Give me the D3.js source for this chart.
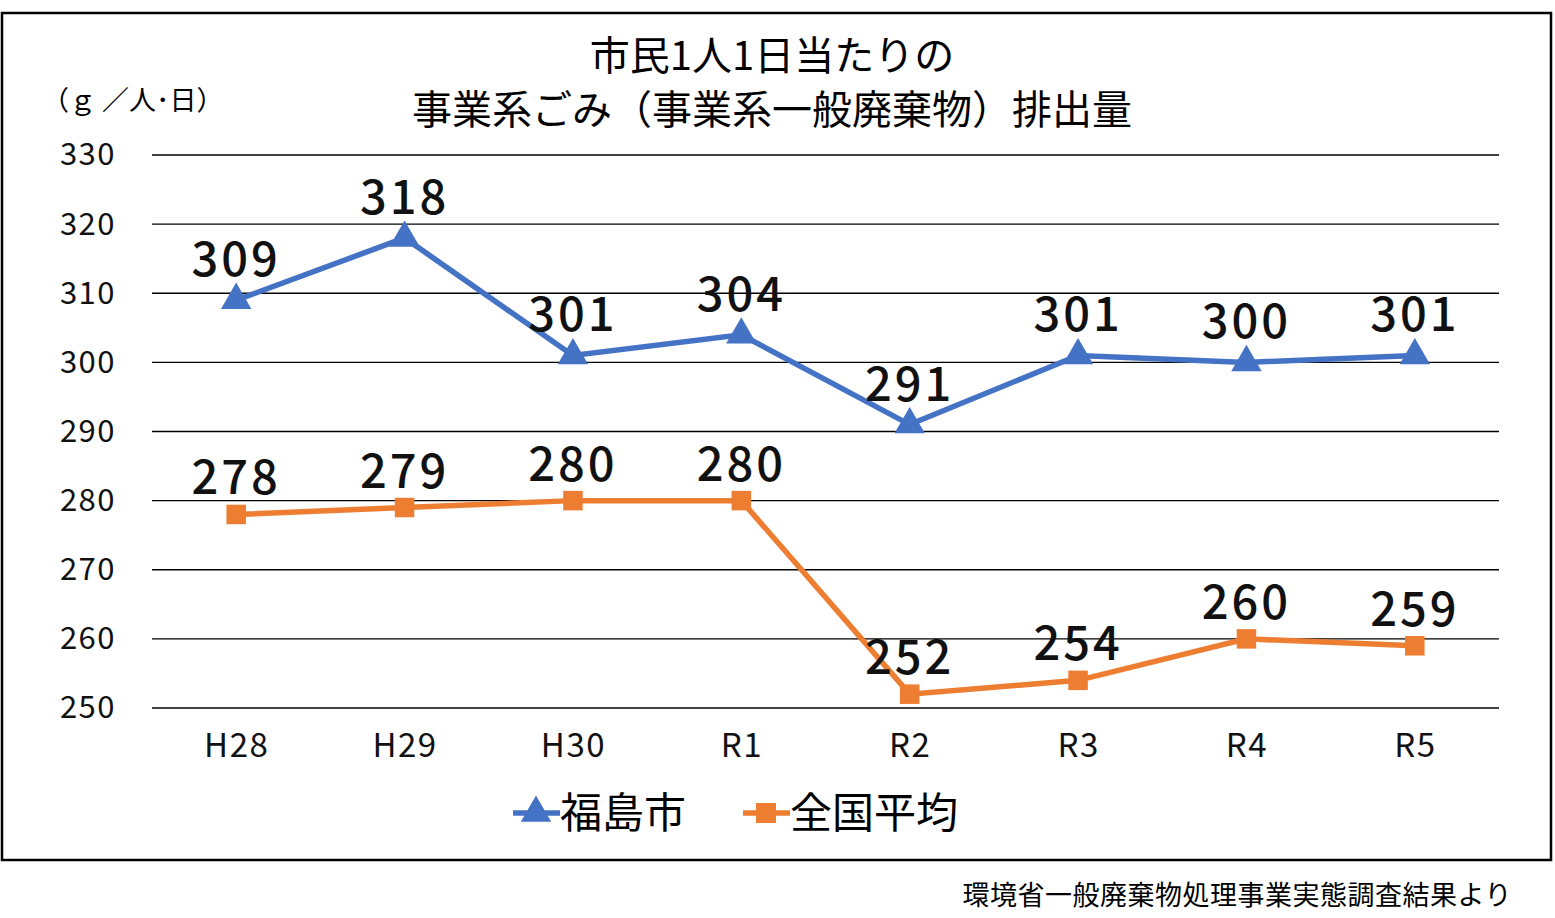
<!DOCTYPE html>
<html><head><meta charset="utf-8">
<script src="https://cdn.jsdelivr.net/npm/d3@7"></script>
<style>body{margin:0;background:#fff}text{font-family:"Noto Sans CJK JP","Noto Sans",sans-serif}</style>
</head><body><svg id="chart" width="1555" height="918"></svg>
<script>
const categories = ["H28","H29","H30","R1","R2","R3","R4","R5"];
const fukushima = [309,318,301,304,291,301,300,301];
const national = [278,279,280,280,252,254,260,259];
const yTicks = [250,260,270,280,290,300,310,320,330];

const svg = d3.select("#chart");
svg.append("rect").attr("x",2).attr("y",13).attr("width",1549).attr("height",847)
  .attr("fill","none").attr("stroke","#000").attr("stroke-width",2.5);

const x = d3.scalePoint().domain(categories).range([152,1499]).padding(0.5);
const y = d3.scaleLinear().domain([250,330]).range([708,155]);

// grid
svg.append("g").selectAll("line").data(yTicks).enter().append("line")
  .attr("x1",152).attr("x2",1499).attr("y1",d=>y(d)).attr("y2",d=>y(d))
  .attr("stroke","#000").attr("stroke-width",1.3);

const yAxis = svg.append("g").attr("transform","translate(124,0)")
  .call(d3.axisLeft(y).tickValues(yTicks).tickSize(0).tickPadding(8));
yAxis.select(".domain").remove();
yAxis.selectAll("text").attr("font-size",31).attr("fill","#111").attr("letter-spacing",1.5);

const xAxis = svg.append("g").attr("transform","translate(0,724)")
  .call(d3.axisBottom(x).tickSize(0).tickPadding(10));
xAxis.select(".domain").remove();
xAxis.selectAll("text").attr("font-size",33).attr("fill","#111").attr("letter-spacing",1.5);

// title
svg.append("text").attr("x",772).attr("y",70).attr("text-anchor","middle").attr("font-size",40).text("市民1人1日当たりの");
svg.append("text").attr("x",772).attr("y",124).attr("text-anchor","middle").attr("font-size",40).text("事業系ごみ（事業系一般廃棄物）排出量");
svg.append("text").attr("x",42).attr("y",110).attr("font-size",27).text("（ｇ ／人･日）");

const line = d3.line().x((d,i)=>x(categories[i])).y(d=>y(d));
function series(vals,color,shape,off){
  svg.append("path").datum(vals).attr("d",line).attr("fill","none").attr("stroke",color).attr("stroke-width",5.5);
  const sym = d3.symbol().type(shape).size(shape===d3.symbolTriangle?400:380);
  svg.append("g").selectAll("path").data(vals).enter().append("path")
    .attr("d",sym).attr("fill",color)
    .attr("transform",(d,i)=>`translate(${x(categories[i])},${y(d)})`);
  svg.append("g").selectAll("text").data(vals).enter().append("text")
    .attr("x",(d,i)=>x(categories[i])).attr("y",d=>y(d)+off)
    .attr("text-anchor","middle").attr("font-size",47).attr("font-weight",500).attr("fill","#111")
    .attr("letter-spacing",3).text(d=>d);
}
series(fukushima,"#4472C4",d3.symbolTriangle,-24);
series(national,"#ED7D31",d3.symbolSquare,-20);

// legend
const lg = [{n:"福島市",c:"#4472C4",s:d3.symbolTriangle,x:513},{n:"全国平均",c:"#ED7D31",s:d3.symbolSquare,x:743}];
lg.forEach(l=>{
  svg.append("line").attr("x1",l.x).attr("x2",l.x+47).attr("y1",813).attr("y2",813).attr("stroke",l.c).attr("stroke-width",5.5);
  svg.append("path").attr("d",d3.symbol().type(l.s).size(400)()).attr("fill",l.c).attr("transform",`translate(${l.x+23},813)`);
  svg.append("text").attr("x",l.x+47).attr("y",828).attr("font-size",42).text(l.n);
});

svg.append("text").attr("x",1512).attr("y",905).attr("text-anchor","end").attr("font-size",27).attr("letter-spacing",0.5).text("環境省一般廃棄物処理事業実態調査結果より");
</script></body></html>
